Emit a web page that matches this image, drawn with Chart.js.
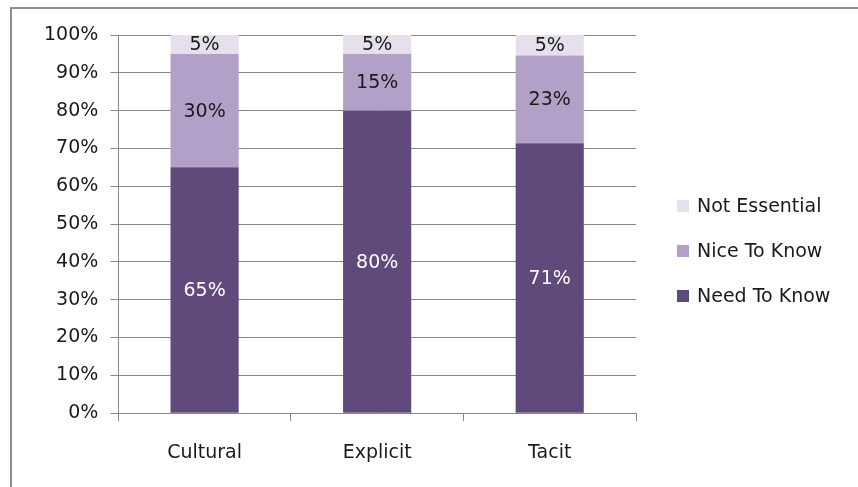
<!DOCTYPE html>
<html>
<head>
<meta charset="utf-8">
<script src="https://cdn.jsdelivr.net/npm/chart.js@4/dist/chart.umd.min.js"></script>
<style>
  html, body { margin: 0; padding: 0; background: #ffffff; }
  #wrap { position: relative; width: 858px; height: 487px; overflow: hidden; }
  #frame {
    position: absolute; left: 10px; top: 7px; right: -10px; bottom: -10px;
    border-left: 2px solid #8e8e8e; border-top: 2px solid #8e8e8e;
  }
  canvas { position: absolute; left: 0; top: 0; }
</style>
</head>
<body>
<div id="wrap">
  <div id="frame"></div>
  <canvas id="chart" width="858" height="487"></canvas>
</div>
<script>
// Knowledge categories and share of responses per rating
const categories = ['Cultural', 'Explicit', 'Tacit'];
const needToKnow = [65, 80, 71.4];
const niceToKnow = [30, 15, 23.2];
const notEssential = [5, 5, 5.4];
const yTicks = [0, 10, 20, 30, 40, 50, 60, 70, 80, 90, 100];

const FONT = '"DejaVu Sans"';
const TEXT = '#1a1a1a';
const LINE = '#888888';

// Writes each segment's percentage in the middle of its bar piece
const segmentLabels = {
  id: 'segmentLabels',
  afterDatasetsDraw(chart) {
    const ctx = chart.ctx;
    ctx.save();
    ctx.font = '19px ' + FONT;
    ctx.textAlign = 'center';
    ctx.textBaseline = 'middle';
    chart.data.datasets.forEach((ds, di) => {
      const meta = chart.getDatasetMeta(di);
      meta.data.forEach((bar, i) => {
        const v = ds.data[i];
        const y = (bar.y + bar.base) / 2;
        ctx.fillStyle = ds.labelColor;
        ctx.fillText(Math.round(v) + '%', bar.x, y + 1);
      });
    });
    ctx.restore();
  }
};

// Legend to the right of the plot, listed top-down from the last series
const sideLegend = {
  id: 'sideLegend',
  afterDraw(chart) {
    const ctx = chart.ctx;
    const area = chart.chartArea;
    const x = area.right + 41;
    const rowGap = 45;
    const firstRow = 206;
    ctx.save();
    ctx.font = '19px ' + FONT;
    ctx.textBaseline = 'middle';
    ctx.textAlign = 'left';
    const items = chart.data.datasets.slice().reverse();
    items.forEach((ds, i) => {
      const y = firstRow + i * rowGap;
      ctx.fillStyle = ds.backgroundColor;
      ctx.fillRect(x, y - 6, 12, 12);
      ctx.fillStyle = TEXT;
      ctx.fillText(ds.label, x + 20, y + 1);
    });
    ctx.restore();
  }
};

new Chart(document.getElementById('chart'), {
  type: 'bar',
  data: {
    labels: categories,
    datasets: [
      { label: 'Need To Know', data: needToKnow, backgroundColor: '#5f4a7b', labelColor: '#ffffff' },
      { label: 'Nice To Know', data: niceToKnow, backgroundColor: '#b1a0c7', labelColor: TEXT },
      { label: 'Not Essential', data: notEssential, backgroundColor: '#e5e0ec', labelColor: TEXT }
    ]
  },
  options: {
    responsive: false,
    animation: false,
    devicePixelRatio: 1,
    categoryPercentage: 1,
    barPercentage: 0.395,
    layout: { padding: { left: 32, top: 35, right: 222, bottom: 3 } },
    plugins: {
      legend: { display: false },
      tooltip: { enabled: false }
    },
    scales: {
      x: {
        stacked: true,
        grid: { drawOnChartArea: false, color: LINE, tickLength: 8, offset: true },
        border: { color: LINE, width: 1 },
        ticks: { font: { family: FONT, size: 19 }, color: TEXT, padding: 20 }
      },
      y: {
        stacked: true,
        min: 0,
        max: 100,
        afterBuildTicks(scale) { scale.ticks = yTicks.map(v => ({ value: v })); },
        grid: { color: LINE, tickLength: 8 },
        border: { color: LINE, width: 1 },
        ticks: {
          font: { family: FONT, size: 19 },
          color: TEXT,
          padding: 12,
          callback: v => v + '%'
        }
      }
    }
  },
  plugins: [segmentLabels, sideLegend]
});
</script>
</body>
</html>
